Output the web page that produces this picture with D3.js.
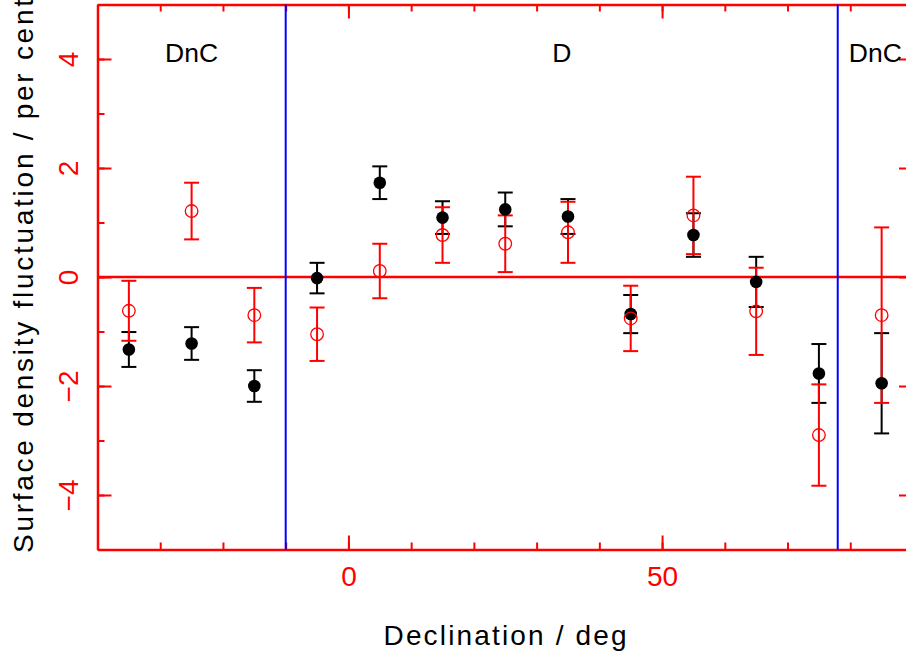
<!DOCTYPE html>
<html>
<head>
<meta charset="utf-8">
<script src="https://cdn.jsdelivr.net/npm/d3@7"></script>
<style>
  html, body { margin: 0; padding: 0; background: #fff; }
  svg { display: block; }
  text { font-family: "Liberation Sans", Arial, sans-serif; }
</style>
</head>
<body>
<script>
// Declination bin centres (deg)
const declination = [-35, -25, -15, -5, 5, 15, 25, 35, 45, 55, 65, 75, 85];

// Filled black points: fluctuation and 1-sigma error (per cent)
const filledValues = [-1.33, -1.22, -2.00, -0.02, 1.73, 1.09, 1.24, 1.11, -0.68, 0.77, -0.09, -1.77, -1.95];
const filledErrors = [0.32, 0.30, 0.29, 0.28, 0.30, 0.30, 0.31, 0.32, 0.35, 0.40, 0.46, 0.54, 0.92];

// Open red points: fluctuation and 1-sigma error (per cent)
const openValues = [-0.62, 1.21, -0.70, -1.05, 0.11, 0.77, 0.61, 0.82, -0.76, 1.13, -0.63, -2.90, -0.70];
const openErrors = [0.55, 0.52, 0.50, 0.49, 0.50, 0.51, 0.52, 0.56, 0.60, 0.71, 0.80, 0.93, 1.61];

// Region boundaries and region labels
const boundaries = [-10, 78];
const regionLabels = ["DnC", "D", "DnC"];
const regionCentres = [-25, 34, 84];
const regionLabelLevel = 3.95;

// Axis ticks
const xMajorTicks = [0, 50];
const xMinorTicks = d3.range(-40, 91, 10);
const yMajorTicks = [-4, -2, 0, 2, 4];
const yMinorTicks = d3.range(-5, 6, 1);

const W = 906, H = 651;
const svg = d3.select("body").append("svg").attr("width", W).attr("height", H);

const x = d3.scaleLinear().domain([-40, 90]).range([97.5, 913]);
const y = d3.scaleLinear().domain([-5, 5]).range([549.5, 4.5]);

const RED = "#ff0000", BLUE = "#0000ff";
const frameW = 2.5;

function styleAxis(g) {
  g.selectAll("path.domain").attr("stroke", RED).attr("stroke-width", frameW);
  g.selectAll(".tick line").attr("stroke", RED).attr("stroke-width", 2);
  g.selectAll(".tick text").attr("fill", RED).attr("font-size", 28)
    .attr("font-family", "Liberation Sans, Arial, sans-serif");
}

// Minor ticks (inward), all four sides
svg.append("g").attr("transform", `translate(0,${y(-5)})`)
  .call(d3.axisBottom(x).tickValues(xMinorTicks).tickSize(-7).tickSizeOuter(0).tickFormat(""))
  .call(styleAxis);
svg.append("g").attr("transform", `translate(0,${y(5)})`)
  .call(d3.axisTop(x).tickValues(xMinorTicks).tickSize(-7).tickSizeOuter(0).tickFormat(""))
  .call(styleAxis);
svg.append("g").attr("transform", `translate(${x(-40)},0)`)
  .call(d3.axisLeft(y).tickValues(yMinorTicks).tickSize(-7).tickSizeOuter(0).tickFormat(""))
  .call(styleAxis);
svg.append("g").attr("transform", `translate(${x(90)},0)`)
  .call(d3.axisRight(y).tickValues(yMinorTicks).tickSize(-7).tickSizeOuter(0).tickFormat(""))
  .call(styleAxis);

// Major ticks with labels
svg.append("g").attr("transform", `translate(0,${y(-5)})`)
  .call(d3.axisBottom(x).tickValues(xMajorTicks).tickSize(-14).tickSizeOuter(0).tickPadding(17).tickFormat(d3.format("d")))
  .call(styleAxis)
  .call(g => g.select("path.domain").remove());
svg.append("g").attr("transform", `translate(0,${y(5)})`)
  .call(d3.axisTop(x).tickValues(xMajorTicks).tickSize(-14).tickSizeOuter(0).tickFormat(""))
  .call(styleAxis)
  .call(g => g.select("path.domain").remove());
const yAxisG = svg.append("g").attr("transform", `translate(${x(-40)},0)`)
  .call(d3.axisLeft(y).tickValues(yMajorTicks).tickSize(-14).tickSizeOuter(0)
    .tickFormat(d => d < 0 ? "\u2212" + Math.abs(d) : String(d)))
  .call(styleAxis)
  .call(g => g.select("path.domain").remove());
yAxisG.selectAll(".tick text")
  .attr("text-anchor", "middle")
  .attr("transform", "rotate(-90)")
  .attr("x", 0).attr("y", -19.5).attr("dy", 0);
svg.append("g").attr("transform", `translate(${x(90)},0)`)
  .call(d3.axisRight(y).tickValues(yMajorTicks).tickSize(-14).tickSizeOuter(0).tickFormat(""))
  .call(styleAxis)
  .call(g => g.select("path.domain").remove());

// Zero line
svg.append("line")
  .attr("x1", x(-40)).attr("x2", x(90))
  .attr("y1", y(0)).attr("y2", y(0))
  .attr("stroke", RED).attr("stroke-width", frameW);

// Region boundaries
svg.selectAll("line.boundary").data(boundaries).join("line")
  .attr("class", "boundary")
  .attr("x1", d => x(d)).attr("x2", d => x(d))
  .attr("y1", y(5)).attr("y2", y(-5))
  .attr("stroke", BLUE).attr("stroke-width", 2);

// Region labels
svg.selectAll("text.region").data(regionLabels).join("text")
  .attr("class", "region")
  .attr("x", (d, i) => x(regionCentres[i]))
  .attr("y", y(regionLabelLevel))
  .attr("text-anchor", "middle")
  .attr("font-size", 26.5)
  .attr("fill", "#000")
  .text(d => d);

const capHalf = 7.5;

function errorBars(cls, values, errors, colour) {
  const g = svg.append("g").attr("class", cls);
  const rows = declination.map((d, i) => ({ d, v: values[i], e: errors[i] }));
  const bar = g.selectAll("g").data(rows).join("g");
  bar.append("line")
    .attr("x1", r => x(r.d)).attr("x2", r => x(r.d))
    .attr("y1", r => y(r.v + r.e)).attr("y2", r => y(r.v - r.e))
    .attr("stroke", colour).attr("stroke-width", 2);
  bar.append("line")
    .attr("x1", r => x(r.d) - capHalf).attr("x2", r => x(r.d) + capHalf)
    .attr("y1", r => y(r.v + r.e)).attr("y2", r => y(r.v + r.e))
    .attr("stroke", colour).attr("stroke-width", 2);
  bar.append("line")
    .attr("x1", r => x(r.d) - capHalf).attr("x2", r => x(r.d) + capHalf)
    .attr("y1", r => y(r.v - r.e)).attr("y2", r => y(r.v - r.e))
    .attr("stroke", colour).attr("stroke-width", 2);
}

errorBars("filled-err", filledValues, filledErrors, "#000");
errorBars("open-err", openValues, openErrors, RED);

// Filled black points
svg.append("g").selectAll("circle").data(declination).join("circle")
  .attr("cx", d => x(d))
  .attr("cy", (d, i) => y(filledValues[i]))
  .attr("r", 6.3)
  .attr("fill", "#000");

// Open red points
svg.append("g").selectAll("circle").data(declination).join("circle")
  .attr("cx", d => x(d))
  .attr("cy", (d, i) => y(openValues[i]))
  .attr("r", 6.3)
  .attr("fill", "none")
  .attr("stroke", RED)
  .attr("stroke-width", 1.3);

// Axis titles
svg.append("text")
  .attr("x", 505).attr("y", 645)
  .attr("text-anchor", "middle")
  .attr("font-size", 28)
  .attr("textLength", 243).attr("lengthAdjust", "spacing")
  .attr("fill", "#000")
  .text("Declination / deg");

svg.append("text")
  .attr("transform", "rotate(-90)")
  .attr("x", -276).attr("y", 33)
  .attr("text-anchor", "middle")
  .attr("font-size", 28)
  .attr("textLength", 554).attr("lengthAdjust", "spacing")
  .attr("fill", "#000")
  .text("Surface density fluctuation / per cent");
</script>
</body>
</html>
